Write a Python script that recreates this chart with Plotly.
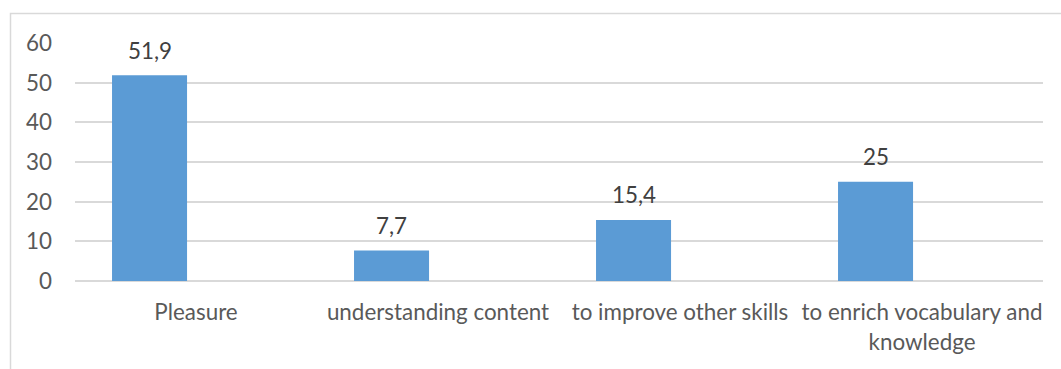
import plotly.graph_objects as go

categories = ["Pleasure", "understanding content", "to improve other skills",
              "to enrich vocabulary and<br>knowledge"]
values = [51.9, 7.7, 15.4, 25]
labels = ["51,9", "7,7", "15,4", "25"]
y_ticks = [0, 10, 20, 30, 40, 50, 60]

FONT = "Lato"
FS = 22.4
W, H = 1061, 369
L, R, T, B = 75, 18, 43, 88
pw, ph = W - L - R, H - T - B

BAR_OFF = -0.347
BAR_W = 0.31

fig = go.Figure()
fig.add_trace(go.Bar(
    x=categories, y=values,
    offset=BAR_OFF, width=BAR_W,
    marker=dict(color="#5b9bd5", line=dict(width=0)),
    hoverinfo="skip",
))

for c, v, t in zip(categories, values, labels):
    fig.add_annotation(
        x=c, y=v, text=t, showarrow=False,
        xshift=(BAR_OFF + BAR_W / 2) * pw / 4,
        yshift=25, yanchor="middle",
        font=dict(family=FONT, size=FS, color="#404040"),
    )

# outer chart border (light grey), extends beyond the window on right/bottom
def px_to_paper_x(p):
    return (p - L) / pw

def px_to_paper_y(p):
    return (H - B - p) / ph

fig.add_shape(type="rect", xref="paper", yref="paper",
              x0=px_to_paper_x(10.5), x1=px_to_paper_x(W + 5),
              y0=px_to_paper_y(H + 5), y1=px_to_paper_y(13.5),
              line=dict(color="#d9d9d9", width=1.5), fillcolor="rgba(0,0,0,0)",
              layer="below")

fig.update_layout(
    width=W, height=H,
    margin=dict(l=L, r=R, t=T, b=B, pad=0),
    paper_bgcolor="white", plot_bgcolor="white",
    showlegend=False,
    font=dict(family=FONT, size=FS, color="#595959"),
    xaxis=dict(
        range=[-0.5, 3.5], tickangle=0, showgrid=False, showline=False,
        ticks="", ticklabelstandoff=16,
        tickfont=dict(family=FONT, size=FS, color="#595959"),
        fixedrange=True,
    ),
    yaxis=dict(
        range=[0, 60], tickvals=y_ticks, showgrid=True,
        gridcolor="#d9d9d9", gridwidth=2,
        zeroline=True, zerolinecolor="#d9d9d9", zerolinewidth=2,
        showline=False, ticks="", ticklabelstandoff=22,
        tickfont=dict(family=FONT, size=FS, color="#595959"),
        fixedrange=True,
    ),
)

fig.write_html("out.html")
